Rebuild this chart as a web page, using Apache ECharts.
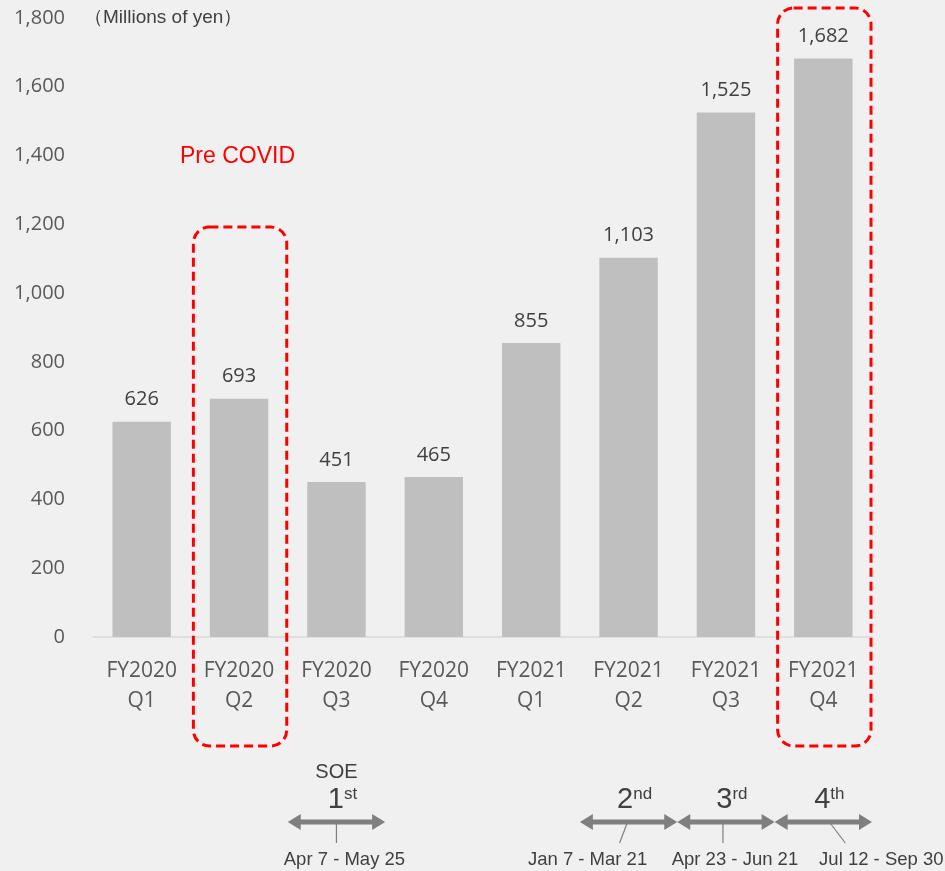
<!DOCTYPE html>
<html>
<head>
<meta charset="utf-8">
<script src="https://cdn.jsdelivr.net/npm/echarts@6/dist/echarts.min.js"></script>
<style>
  html, body { margin: 0; padding: 0; background: #eff0ef; }
  #chart { width: 945px; height: 871px; }
</style>
</head>
<body>
<div id="chart"></div>
<script>
// Quarterly figures, millions of yen
const categories = ['FY2020\nQ1', 'FY2020\nQ2', 'FY2020\nQ3', 'FY2020\nQ4',
                    'FY2021\nQ1', 'FY2021\nQ2', 'FY2021\nQ3', 'FY2021\nQ4'];
const revenue = [626, 693, 451, 465, 855, 1103, 1525, 1682];
const yTicks = { min: 0, max: 1800, step: 200 };

// State-of-emergency periods: which quarter each spans, ordinal, suffix, dates
const soePeriods = [
  { cat: 2, num: '1', suf: 'st', dates: 'Apr 7 - May 25' },
  { cat: 5, num: '2', suf: 'nd', dates: 'Jan 7 - Mar 21' },
  { cat: 6, num: '3', suf: 'rd', dates: 'Apr 23 - Jun 21' },
  { cat: 7, num: '4', suf: 'th', dates: 'Jul 12 - Sep 30' }
];
// Highlighted quarters
const highlighted = [1, 7];

const GREY = '#595959';
const chart = echarts.init(document.getElementById('chart'));

const option = {
  backgroundColor: '#eff0ef',
  animation: false,
  grid: { left: 93, right: 73, top: 18, bottom: 234 },
  xAxis: {
    type: 'category',
    data: categories,
    axisLine: { lineStyle: { color: '#d9d9d9', width: 1.5 } },
    axisTick: { show: false },
    axisLabel: {
      color: GREY, fontSize: 21, lineHeight: 30, margin: 19,
      fontFamily: 'Open Sans', interval: 0
    }
  },
  yAxis: {
    type: 'value',
    min: yTicks.min, max: yTicks.max, interval: yTicks.step,
    splitLine: { show: false },
    axisLine: { show: false },
    axisTick: { show: false },
    axisLabel: {
      color: GREY, fontSize: 20, margin: 28, fontFamily: 'Open Sans',
      formatter: v => v.toLocaleString('en-US')
    }
  },
  series: [{
    type: 'bar',
    data: revenue,
    barWidth: '60%',
    itemStyle: { color: '#bfbfbf' },
    label: {
      show: true, position: 'top', distance: 12,
      color: '#404040', fontSize: 20, fontFamily: 'Open Sans',
      formatter: p => p.value.toLocaleString('en-US')
    }
  }]
};
chart.setOption(option);

function arrow(x1, x2, y) {
  const c = '#7f7f7f', h = 13, hw = 8;
  return [
    { type: 'line', shape: { x1: x1 + h - 2, y1: y, x2: x2 - h + 2, y2: y },
      style: { stroke: c, lineWidth: 5 } },
    { type: 'polygon', shape: { points: [[x1, y], [x1 + h, y - hw], [x1 + h, y + hw]] },
      style: { fill: c } },
    { type: 'polygon', shape: { points: [[x2, y], [x2 - h, y - hw], [x2 - h, y + hw]] },
      style: { fill: c } }
  ];
}

function buildGraphics() {
  const cx = i => chart.convertToPixel({ xAxisIndex: 0 }, i);
  const py = v => chart.convertToPixel({ yAxisIndex: 0 }, v);
  const half = (cx(1) - cx(0)) / 2;
  const els = [];

  // Axis unit
  els.push({ type: 'text', x: 84, y: py(yTicks.max), style: {
    text: '（Millions of yen）', fill: '#404040', fontSize: 19,
    fontFamily: 'Liberation Sans', verticalAlign: 'middle', align: 'left' } });

  // Pre COVID note
  els.push({ type: 'text', x: 180, y: 157, style: {
    text: 'Pre COVID', fill: '#ff0000', fontSize: 23,
    fontFamily: 'Liberation Sans', verticalAlign: 'middle' } });

  // Dashed highlight frames
  highlighted.forEach(i => {
    const top = i === 1 ? 227 : 8;
    const l = cx(i) - half + 3, r = cx(i) + half - 1;
    els.push({ type: 'rect', shape: { x: l, y: top, width: r - l, height: 746 - top, r: 16 },
      style: { fill: 'none', stroke: '#ff0000', lineWidth: 3, lineDash: [9, 5] }, z: 10 });
  });

  // SOE heading
  els.push({ type: 'text', x: cx(2), y: 772, style: {
    text: 'SOE', fill: '#404040', fontSize: 20, fontFamily: 'Liberation Sans',
    align: 'center', verticalAlign: 'middle' } });

  const ay = 822;
  soePeriods.forEach(p => {
    const l = cx(p.cat) - half, r = cx(p.cat) + half, m = cx(p.cat);
    els.push(...arrow(l, r, ay));
    els.push({ type: 'text', x: m + 6, y: 800, style: {
      text: '{n|' + p.num + '}{s|' + p.suf + '}', align: 'center', verticalAlign: 'middle',
      rich: {
        n: { fontSize: 29, fill: '#404040', fontFamily: 'Liberation Sans', verticalAlign: 'bottom' },
        s: { fontSize: 17, fill: '#404040', fontFamily: 'Liberation Sans', verticalAlign: 'top', padding: [0, 0, 11, 0] }
      } } });
    // leader from the arrow to its date label
    let lx1 = m, lx2 = m, tx = m + 8;
    if (p.cat === 5) { lx1 = m - 1; lx2 = m - 9; tx = m - 41; }
    if (p.cat === 6) { lx1 = m - 3; lx2 = m - 3; tx = m + 9; }
    if (p.cat === 7) { lx1 = m + 6; lx2 = m + 22; tx = m + 58; }
    els.push({ type: 'line', shape: { x1: lx1, y1: ay, x2: lx2, y2: 843 },
      style: { stroke: '#7f7f7f', lineWidth: 1.2 } });
    els.push({ type: 'text', x: tx, y: 860, style: {
      text: p.dates, fill: '#404040', fontSize: 18.5, fontFamily: 'Liberation Sans',
      align: 'center', verticalAlign: 'middle' } });
  });

  chart.setOption({ graphic: { elements: els } });
}
buildGraphics();
</script>
</body>
</html>
